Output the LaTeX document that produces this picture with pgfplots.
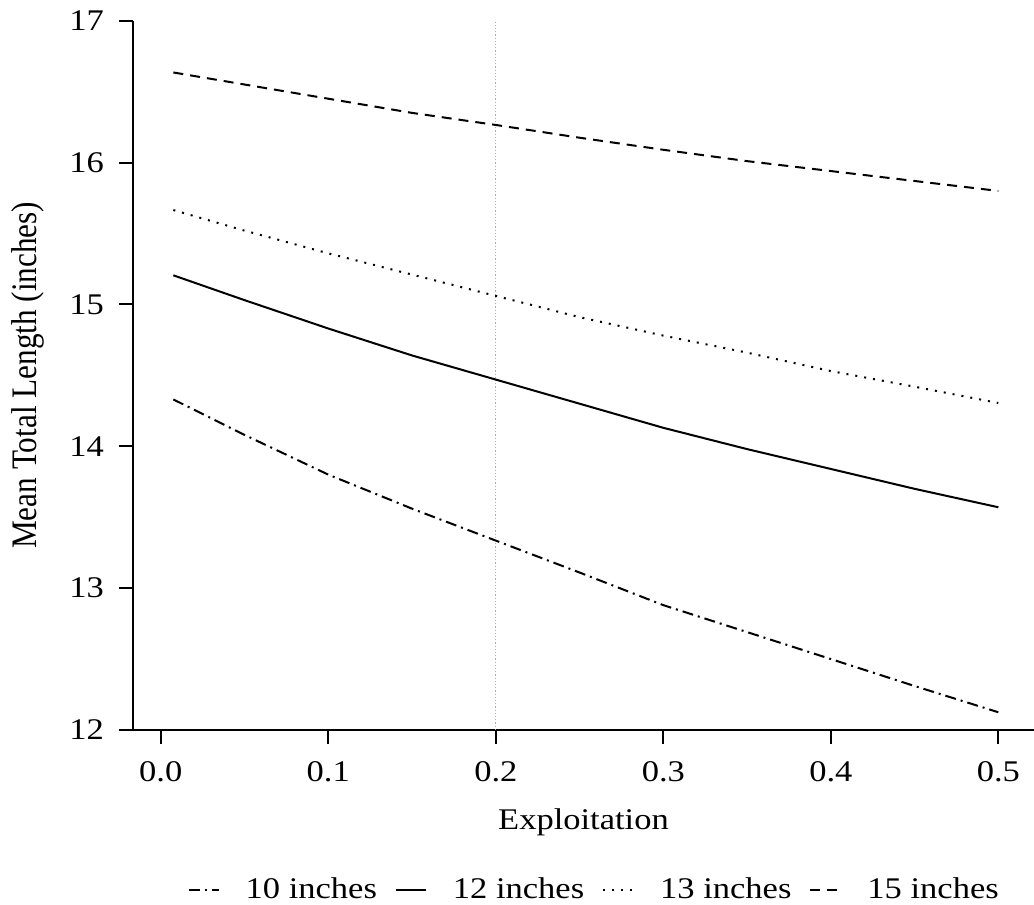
\documentclass[border=0pt]{standalone}
\usepackage{graphicx}
\usepackage{fontspec}
\setmainfont{Liberation Serif}[FakeStretch=1.15]
\newfontfamily\ylabfont{Liberation Serif}
\usepackage{pgfplots}
\pgfplotsset{compat=1.18}

\pgfplotstableread{
x      a      b      c      d
0.0075 14.33  15.205 15.665 16.635
0.05   14.08  15.03  15.52  16.55
0.10   13.80  14.83  15.36  16.45
0.15   13.56  14.64  15.21  16.35
0.20   13.335 14.47  15.06  16.265
0.25   13.11  14.30  14.91  16.175
0.30   12.88  14.13  14.78  16.09
0.35   12.69  13.98  14.66  16.01
0.40   12.50  13.84  14.53  15.94
0.45   12.31  13.70  14.42  15.87
0.50   12.125 13.57  14.305 15.80
}\datatable

\begin{document}
\begin{tikzpicture}[font=\fontsize{15}{18}\selectfont]
\begin{axis}[
  name=ax,
  scale only axis, width=450.5pt, height=354.65pt,
  xmin=-0.0166, xmax=0.5213, ymin=12, ymax=17,
  axis lines=left, axis line style={-, line width=1.1pt},
  tick align=outside, major tick length=7pt,
  tick style={line width=1pt, black},
  xtick={0,0.1,0.2,0.3,0.4,0.5}, ytick={12,13,14,15,16,17},
  /pgf/number format/assume math mode=true,
  ticklabel style={font=\fontsize{15}{18}\selectfont},
  xticklabel style={/tikz/yshift=-5.5pt, /pgf/number format/.cd, fixed, fixed zerofill, precision=1},
  yticklabel style={/tikz/xshift=-4pt},
  xlabel={Exploitation},
  xlabel style={at={(axis description cs:0.5,-0.1396)}, anchor=base, font=\fontsize{15}{18}\selectfont},
  ylabel={\scalebox{1}[1.15]{\ylabfont\fontsize{15.6}{18}\selectfont Mean Total Length (inches)}},
  ylabel style={at={(axis description cs:-0.1165,0.5)}, anchor=center},
  legend columns=4,
  legend style={at={(axis description cs:0.513,-0.2256)}, anchor=center, draw=none, fill=none,
    font=\fontsize{15}{18}\selectfont, column sep=11pt,
    /tikz/every even column/.append style={column sep=7pt}},
  legend image code/.code={\draw[#1] (0pt,0pt) -- (15pt,0pt);},
  every axis plot/.append style={black, line width=1pt},
]
\addplot[gray!65, line width=0.55pt, dash pattern=on 0.6pt off 1pt, forget plot] coordinates {(0.2,12) (0.2,17)};
\addplot[dash pattern=on 5.5pt off 2.5pt on 1pt off 2.5pt] table[x=x, y=a] {\datatable};
\addplot[solid] table[x=x, y=b] {\datatable};
\addplot[dash pattern=on 1pt off 3.5pt] table[x=x, y=c] {\datatable};
\addplot[dash pattern=on 5pt off 3.5pt] table[x=x, y=d] {\datatable};
\legend{10 inches, 12 inches, 13 inches, 15 inches}
\end{axis}
\pgfresetboundingbox
\path[use as bounding box] ([xshift=-66.5pt,yshift=-87.5pt]ax.south west) rectangle ([yshift=10.35pt]ax.north east);
\end{tikzpicture}
\end{document}
